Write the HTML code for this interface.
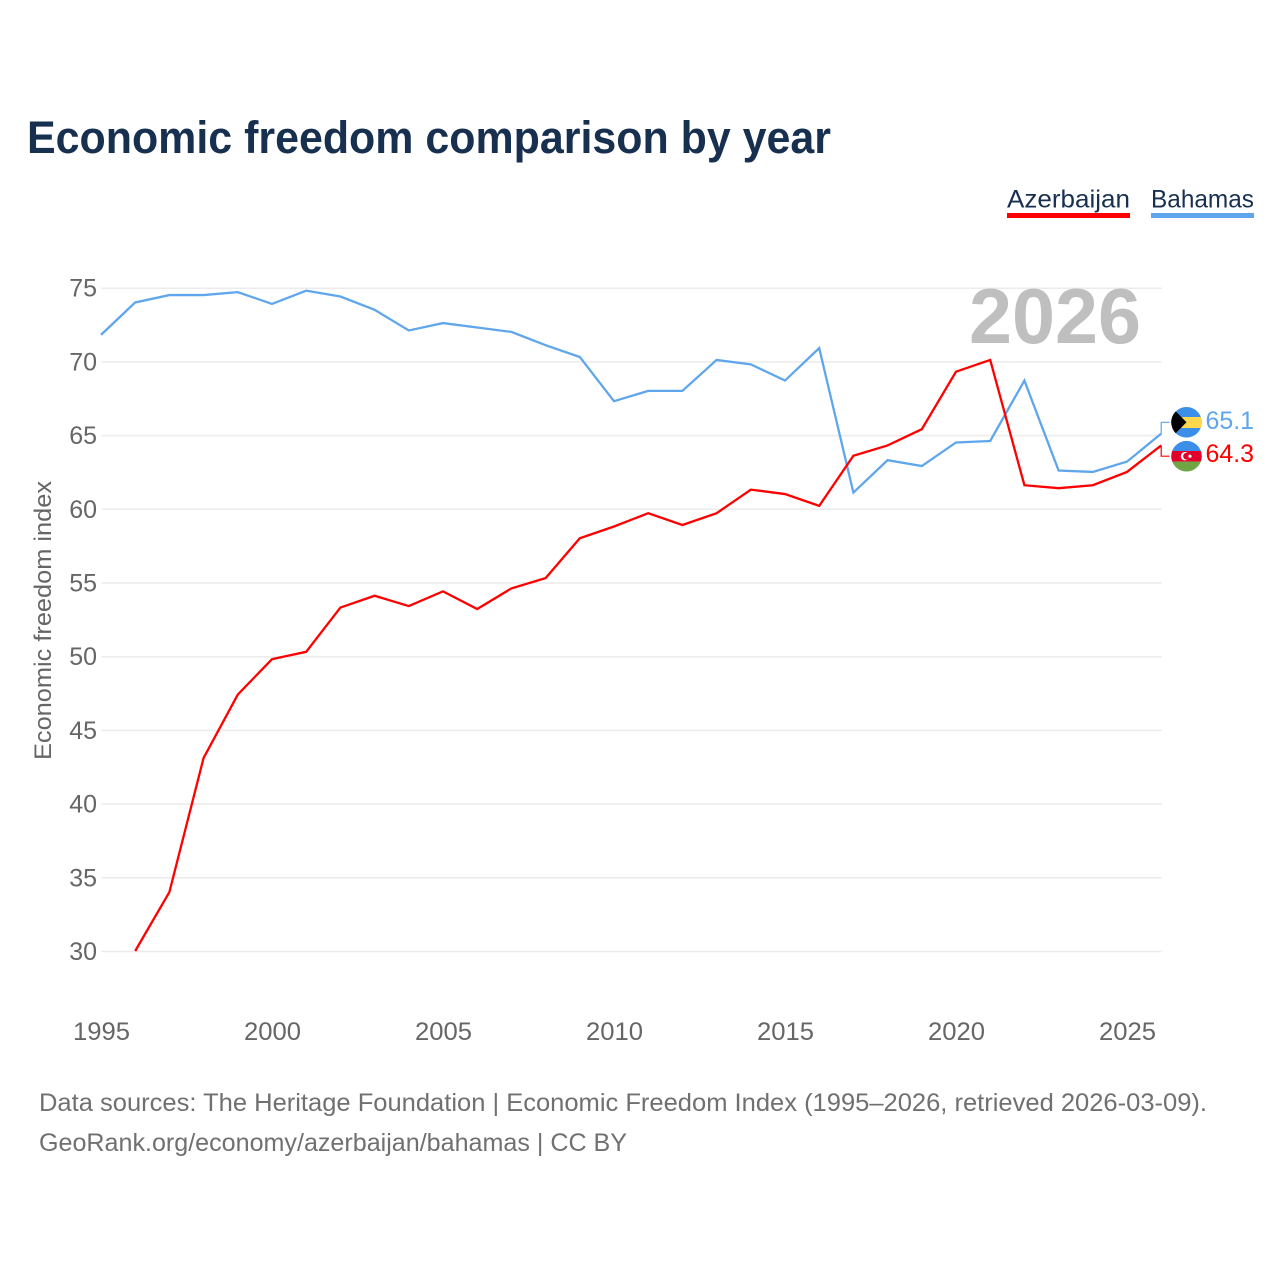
<!DOCTYPE html>
<html lang="en">
<head>
<meta charset="utf-8">
<title>Economic freedom comparison by year</title>
<style>
html,body{margin:0;padding:0;background:#fff;}
svg{display:block;font-family:"Liberation Sans",sans-serif;}
</style>
</head>
<body>
<svg id="chart" xmlns="http://www.w3.org/2000/svg" width="1280" height="1280" viewBox="0 0 1280 1280">
  <defs>
    <clipPath id="clip-bs"><circle cx="1186.5" cy="422.3" r="15.3"/></clipPath>
    <clipPath id="clip-az"><circle cx="1186.5" cy="456.2" r="15.3"/></clipPath>
  </defs>
  <rect width="1280" height="1280" fill="#fff"/>
  <text x="27" y="153" font-size="45" font-weight="700" fill="#18304f" textLength="804" lengthAdjust="spacingAndGlyphs">Economic freedom comparison by year</text>

  <g>
    <text x="1007" y="207.5" font-size="25" fill="#18304f" textLength="123" lengthAdjust="spacingAndGlyphs">Azerbaijan</text>
    <rect x="1007" y="213" width="123" height="5" fill="#ff0000"/>
  </g>
  <g>
    <text x="1151" y="207.5" font-size="25" fill="#18304f" textLength="103" lengthAdjust="spacingAndGlyphs">Bahamas</text>
    <rect x="1151" y="213" width="103" height="5" fill="#5fa6ec"/>
  </g>

  <g id="grid"></g>
  <g id="y-ticks"></g>
  <g id="x-ticks"></g>

  <text transform="translate(51 620.5) rotate(-90)" text-anchor="middle" font-size="24" fill="#666" textLength="279" lengthAdjust="spacingAndGlyphs">Economic freedom index</text>

  <text x="969" y="343" font-size="78" font-weight="700" fill="#bfbfbf" textLength="172" lengthAdjust="spacingAndGlyphs">2026</text>

  <g id="series" transform="translate(-0.5 -0.5)"></g>

  <g clip-path="url(#clip-bs)">
    <rect x="1171" y="406" width="31" height="33" fill="#3b8fe8"/>
    <rect x="1171" y="417" width="31" height="11" fill="#ffd84d"/>
    <polygon points="1171,406.5 1186.5,422.3 1171,438" fill="#000"/>
  </g>
  <g clip-path="url(#clip-az)">
    <rect x="1171" y="440" width="31" height="11" fill="#3b8fe8"/>
    <rect x="1171" y="451" width="31" height="10.6" fill="#e2002b"/>
    <rect x="1171" y="461.6" width="31" height="11" fill="#6fa544"/>
    <circle cx="1185" cy="456.2" r="4.2" fill="#fff"/>
    <circle cx="1186.6" cy="456.2" r="3.4" fill="#e2002b"/>
    <circle cx="1190" cy="456.2" r="1.6" fill="#fff"/>
  </g>

  <text id="value-bahamas" x="1205.5" y="429" font-size="25" fill="#5fa6ec" textLength="48.5" lengthAdjust="spacingAndGlyphs"></text>
  <text id="value-azerbaijan" x="1205.5" y="462" font-size="25" fill="#ff0000" textLength="48.5" lengthAdjust="spacingAndGlyphs"></text>

  <text x="39" y="1111" font-size="25" fill="#707070" textLength="1168" lengthAdjust="spacingAndGlyphs">Data sources: The Heritage Foundation | Economic Freedom Index (1995–2026, retrieved 2026-03-09).</text>
  <text x="39" y="1151" font-size="25" fill="#707070" textLength="588" lengthAdjust="spacingAndGlyphs">GeoRank.org/economy/azerbaijan/bahamas | CC BY</text>
</svg>
<script>
const years = [1995,1996,1997,1998,1999,2000,2001,2002,2003,2004,2005,2006,2007,2008,2009,2010,2011,2012,2013,2014,2015,2016,2017,2018,2019,2020,2021,2022,2023,2024,2025,2026];
const azerbaijan = [null,30.0,34.0,43.1,47.4,49.8,50.3,53.3,54.1,53.4,54.4,53.2,54.6,55.3,58.0,58.8,59.7,58.9,59.7,61.3,61.0,60.2,63.6,64.3,65.4,69.3,70.1,61.6,61.4,61.6,62.5,64.3];
const bahamas = [71.8,74.0,74.5,74.5,74.7,73.9,74.8,74.4,73.5,72.1,72.6,72.3,72.0,71.1,70.3,67.3,68.0,68.0,70.1,69.8,68.7,70.9,61.1,63.3,62.9,64.5,64.6,68.7,62.6,62.5,63.2,65.1];
const yTickValues = [30,35,40,45,50,55,60,65,70,75];
const xTickValues = [1995,2000,2005,2010,2015,2020,2025];

const NS = 'http://www.w3.org/2000/svg';
const plotLeft = 101.5, plotRight = 1161.7;
const xScale = function (yr) { return plotLeft + (yr - 1995) * (plotRight - plotLeft) / 31; };
const yScale = function (v) { return 951.5 - (v - 30) * (951.5 - 288.2) / 45; };

const gridG = document.getElementById('grid');
const yG = document.getElementById('y-ticks');
const xG = document.getElementById('x-ticks');
const seriesG = document.getElementById('series');

yTickValues.forEach(function (v) {
  const line = document.createElementNS(NS, 'line');
  
  
  line.setAttribute('x1', plotLeft);
  line.setAttribute('x2', plotRight);
  line.setAttribute('y1', yScale(v));
  line.setAttribute('y2', yScale(v));
  line.setAttribute('stroke', '#ebebeb');
  line.setAttribute('stroke-width', '1.5');
  gridG.appendChild(line);

  const label = document.createElementNS(NS, 'text');
  
  
  label.setAttribute('x', 97);
  label.setAttribute('y', yScale(v) + 8.5);
  label.setAttribute('text-anchor', 'end');
  label.setAttribute('font-size', '25');
  label.setAttribute('fill', '#666');
  label.textContent = v;
  yG.appendChild(label);
});

xTickValues.forEach(function (yr) {
  const label = document.createElementNS(NS, 'text');
  
  
  label.setAttribute('x', xScale(yr));
  label.setAttribute('y', 1040);
  label.setAttribute('text-anchor', 'middle');
  label.setAttribute('font-size', '25');
  label.setAttribute('fill', '#666');
  label.setAttribute('textLength', '57');
  label.setAttribute('lengthAdjust', 'spacingAndGlyphs');
  label.textContent = yr;
  xG.appendChild(label);
});

function pathFor(values) {
  const parts = [];
  values.forEach(function (v, i) {
    if (v === null) return;
    parts.push((parts.length ? 'L' : 'M') + xScale(years[i]).toFixed(2) + ' ' + yScale(v).toFixed(2));
  });
  return parts.join(' ');
}

const bahamasLine = document.createElementNS(NS, 'path');


bahamasLine.setAttribute('d', pathFor(bahamas));
bahamasLine.setAttribute('fill', 'none');
bahamasLine.setAttribute('stroke', '#5fa6ec');
bahamasLine.setAttribute('stroke-width', '2.3');
seriesG.appendChild(bahamasLine);

const azerbaijanLine = document.createElementNS(NS, 'path');


azerbaijanLine.setAttribute('d', pathFor(azerbaijan));
azerbaijanLine.setAttribute('fill', 'none');
azerbaijanLine.setAttribute('stroke', '#ff0000');
azerbaijanLine.setAttribute('stroke-width', '2.3');
seriesG.appendChild(azerbaijanLine);

const lastBs = bahamas[bahamas.length - 1];
const lastAz = azerbaijan[azerbaijan.length - 1];

const bahamasLeader = document.createElementNS(NS, 'path');


bahamasLeader.setAttribute('d', 'M' + plotRight + ' ' + yScale(lastBs) + ' V422.8 H1170');
bahamasLeader.setAttribute('fill', 'none');
bahamasLeader.setAttribute('stroke', '#5fa6ec');
bahamasLeader.setAttribute('stroke-width', '1.2');
seriesG.appendChild(bahamasLeader);

const azerbaijanLeader = document.createElementNS(NS, 'path');


azerbaijanLeader.setAttribute('d', 'M' + plotRight + ' ' + yScale(lastAz) + ' V456.7 H1170');
azerbaijanLeader.setAttribute('fill', 'none');
azerbaijanLeader.setAttribute('stroke', '#ff0000');
azerbaijanLeader.setAttribute('stroke-width', '1.2');
seriesG.appendChild(azerbaijanLeader);

document.getElementById('value-bahamas').textContent = lastBs.toFixed(1);
document.getElementById('value-azerbaijan').textContent = lastAz.toFixed(1);
</script>
</body>
</html>
